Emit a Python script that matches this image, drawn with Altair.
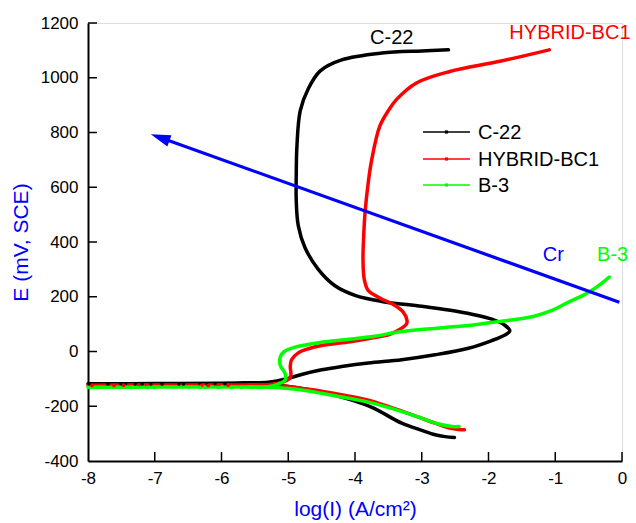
import altair as alt
import pandas as pd

FONT = "Liberation Sans"

# ---- data ----
series_names = ["C-22", "HYBRID-BC1", "B-3"]
series_colors = ["#000000", "#ff0000", "#00ff00"]

# anodic branches (from the rest potential upward) and cathodic branches
c22_x = [-8.0, -7.0, -6.0, -5.6, -5.3, -5.0, -4.8, -4.5, -4.2, -3.8, -3.3, -2.8, -2.3, -1.95, -1.74,
         -1.68, -1.75, -1.95, -2.5, -3.0, -3.6, -4.0, -4.3, -4.55, -4.75, -4.85, -4.88, -4.88, -4.87,
         -4.82, -4.7, -4.52, -4.2, -3.6, -3.0, -2.6]
c22_y = [-118, -117, -116, -114, -112, -98, -84, -67, -55, -42, -30, -12, 12, 40, 62,
         75, 95, 118, 148, 165, 183, 205, 240, 300, 380, 460, 550, 650, 750,
         880, 960, 1025, 1065, 1090, 1098, 1102]
c22_cx = [-5.6, -5.3, -5.0, -4.8, -4.5, -4.07, -3.73, -3.3, -3.0, -2.8, -2.65, -2.51]
c22_cy = [-116, -119, -128, -135, -148, -176, -206, -262, -288, -304, -311, -314]

hyb_x = [-8.0, -7.0, -6.0, -5.6, -5.3, -5.08, -4.97, -4.96, -4.97, -4.95, -4.85, -4.7, -4.5, -4.07,
         -3.73, -3.48, -3.3, -3.23, -3.22, -3.28, -3.45, -3.6, -3.8, -3.86, -3.88, -3.87, -3.85,
         -3.8, -3.75, -3.63, -3.5, -3.38, -3.08, -2.58, -1.83, -1.09]
hyb_y = [-123, -122, -122, -122, -121, -112, -96, -79, -55, -30, -5, 10, 22, 36,
         50, 63, 85, 100, 112, 145, 175, 192, 222, 262, 335, 420, 506,
         620, 700, 822, 880, 920, 981, 1023, 1060, 1102]
hyb_cx = [-5.6, -5.3, -5.0, -4.82, -4.52, -4.2, -3.83, -3.45, -3.08, -2.8, -2.58, -2.45, -2.36]
hyb_cy = [-122, -123, -128, -134, -144, -158, -176, -205, -237, -262, -280, -285, -286]

b3_x = [-8.0, -7.0, -6.0, -5.6, -5.3, -5.15, -5.04, -5.05, -5.12, -5.12, -5.06, -4.9, -4.72, -4.5,
        -3.73, -3.33, -2.73, -2.2, -1.83, -1.33, -1.05, -0.83, -0.6, -0.48, -0.3, -0.19]
b3_y = [-131, -130, -130, -130, -129, -119, -102, -79, -50, -20, 0, 16, 25, 34,
        55, 72, 86, 98, 110, 128, 150, 177, 203, 219, 250, 272]
b3_cx = [-5.6, -5.3, -5.0, -4.82, -4.52, -4.2, -3.83, -3.45, -3.08, -2.73, -2.55, -2.44]
b3_cy = [-130, -131, -135, -140, -152, -166, -183, -208, -237, -266, -274, -274]

# scattered noise dots along the rest-potential baseline
dots_c22_x = [-7.98, -7.70, -7.51, -7.44, -7.29, -7.19, -7.06, -6.89, -6.64, -6.57, -6.32, -6.22, -6.1, -5.95]
dots_c22_y = [-118, -118, -118, -118, -118, -118, -118, -118, -118, -118, -118, -118, -117, -117]
dots_hyb_x = [-7.94, -7.61, -7.46, -7.25, -7.12, -6.30, -6.20, -6.05, -5.9]
dots_hyb_y = [-124, -124, -124, -124, -124, -124, -124, -123, -123]
dots_b3_x = [-7.82, -7.52, -7.42, -7.35, -7.26, -7.11, -7.01, -6.32, -6.25, -6.05, -5.85, -5.7, -5.55, -5.45]
dots_b3_y = [-131, -131, -131, -131, -131, -131, -131, -131, -131, -131, -131, -131, -131, -131]

# blue "Cr" arrow: start, end of shaft, and tip
arrow_x = [-0.04, -6.92]
arrow_y = [180, 782]
arrow_tip_x = [-7.06]
arrow_tip_y = [794]
arrow_angle = [290]

# annotations
ann_text = ["C-22", "HYBRID-BC1", "Cr", "B-3"]
ann_x = [-3.45, -0.78, -1.03, -0.14]
ann_y = [1145, 1163, 351, 351]
ann_color = ["#000000", "#ff0000", "#0000ff", "#00ff00"]

x_ticks = [-8, -7, -6, -5, -4, -3, -2, -1, 0]
y_ticks = [-400, -200, 0, 200, 400, 600, 800, 1000, 1200]

W, H = 534, 438

# ---- build tables ----
rows = []
for name, xs_, ys_, cxs, cys in [
    ("C-22", c22_x, c22_y, c22_cx, c22_cy),
    ("HYBRID-BC1", hyb_x, hyb_y, hyb_cx, hyb_cy),
    ("B-3", b3_x, b3_y, b3_cx, b3_cy),
]:
    for i, (a, b) in enumerate(zip(xs_, ys_)):
        rows.append({"series": name, "part": "anodic", "idx": i, "x": a, "y": b})
    for i, (a, b) in enumerate(zip(cxs, cys)):
        rows.append({"series": name, "part": "cathodic", "idx": i, "x": a, "y": b})
curves = pd.DataFrame(rows)
curves["key"] = curves["series"] + "-" + curves["part"]

dot_rows = []
for name, xs_, ys_ in [("C-22", dots_c22_x, dots_c22_y), ("HYBRID-BC1", dots_hyb_x, dots_hyb_y), ("B-3", dots_b3_x, dots_b3_y)]:
    for a, b in zip(xs_, ys_):
        dot_rows.append({"series": name, "x": a, "y": b})
dots = pd.DataFrame(dot_rows)

xs = alt.Scale(domain=[-8, 0], nice=False, zero=False)
ys = alt.Scale(domain=[-400, 1200], nice=False, zero=False)
cs = alt.Scale(domain=series_names, range=series_colors)

LBL = "'' + datum.value"
x_axis = alt.Axis(values=x_ticks, grid=False, ticks=False, domainColor="black", domainWidth=2,
                  labelFont=FONT, labelFontSize=17, labelColor="black", labelPadding=9, labelExpr=LBL,
                  title="log(I) (A/cm²)", titleFont=FONT, titleFontSize=21, titleColor="#0000ff",
                  titleFontWeight="normal", titlePadding=12, labelFlush=False)
y_axis = alt.Axis(values=y_ticks, grid=False, ticks=False, domainColor="black", domainWidth=2,
                  labelFont=FONT, labelFontSize=17, labelColor="black", labelPadding=10, labelExpr=LBL,
                  title="E (mV, SCE)", titleFont=FONT, titleFontSize=21, titleColor="#0000ff",
                  titleFontWeight="normal", titlePadding=9, labelFlush=False)

base_curves = alt.Chart(curves).mark_line(strokeWidth=3.5, strokeCap="round", strokeJoin="round",
                                          interpolate="catmull-rom").encode(
    x=alt.X("x:Q", scale=xs, axis=x_axis),
    y=alt.Y("y:Q", scale=ys, axis=y_axis),
    color=alt.Color("series:N", scale=cs, legend=None),
    detail="key:N",
    order="idx:Q",
)

dot_layer = alt.Chart(dots).mark_circle(size=14, opacity=1).encode(
    x=alt.X("x:Q", scale=xs), y=alt.Y("y:Q", scale=ys),
    color=alt.Color("series:N", scale=cs, legend=None),
)

arrow_df = pd.DataFrame({"x": arrow_x, "y": arrow_y})
arrow_line = alt.Chart(arrow_df).mark_line(color="#0000ff", strokeWidth=3.2).encode(
    x=alt.X("x:Q", scale=xs), y=alt.Y("y:Q", scale=ys)
)
tip_df = pd.DataFrame({"x": arrow_tip_x, "y": arrow_tip_y, "a": arrow_angle})
arrow_head = alt.Chart(tip_df).mark_point(
    shape="M0,0 L0.45,1.5 L-0.45,1.5 Z", filled=True, fill="#0000ff", color="#0000ff",
    size=700, opacity=1, strokeWidth=0
).encode(
    x=alt.X("x:Q", scale=xs), y=alt.Y("y:Q", scale=ys),
    angle=alt.Angle("a:Q", scale=None),
)

ann_df = pd.DataFrame({"t": ann_text, "x": ann_x, "y": ann_y, "c": ann_color})
ann_layer = alt.Chart(ann_df).mark_text(font=FONT, fontSize=20, align="center", baseline="middle").encode(
    x=alt.X("x:Q", scale=xs), y=alt.Y("y:Q", scale=ys), text="t:N",
    color=alt.Color("c:N", scale=None),
)

# inward tick marks
xt = alt.Chart(pd.DataFrame({"v": x_ticks[1:]})).mark_rule(color="black", strokeWidth=1.5).encode(
    x=alt.X("v:Q", scale=xs), y=alt.value(H), y2=alt.value(H - 9)
)
yt = alt.Chart(pd.DataFrame({"v": y_ticks[1:]})).mark_rule(color="black", strokeWidth=1.5).encode(
    y=alt.Y("v:Q", scale=ys), x=alt.value(0), x2=alt.value(9)
)

# manual legend
legend_layers = []
row_y = [109, 136, 162]
for name, col, ry in zip(series_names, series_colors, row_y):
    one = pd.DataFrame({"t": [name]})
    legend_layers.append(alt.Chart(one).mark_rule(color=col, strokeWidth=1.3).encode(
        x=alt.value(335), x2=alt.value(382), y=alt.value(ry)))
    legend_layers.append(alt.Chart(one).mark_square(color=col, size=10, opacity=1).encode(
        x=alt.value(358.5), y=alt.value(ry)))
    legend_layers.append(alt.Chart(one).mark_text(font=FONT, fontSize=20, align="left", baseline="middle",
                                                  color="black").encode(
        x=alt.value(390), y=alt.value(ry + 1), text="t:N"))

chart = alt.layer(
    base_curves, dot_layer, arrow_line, arrow_head, ann_layer, xt, yt, *legend_layers
).properties(
    width=W, height=H,
    autosize=alt.AutoSizeParams(type="none"),
    padding={"left": 88, "top": 23, "right": 14, "bottom": 62},
).configure_view(stroke=None).configure(background="white")

chart.save("out.html", embed_options={"renderer": "svg", "actions": False})
